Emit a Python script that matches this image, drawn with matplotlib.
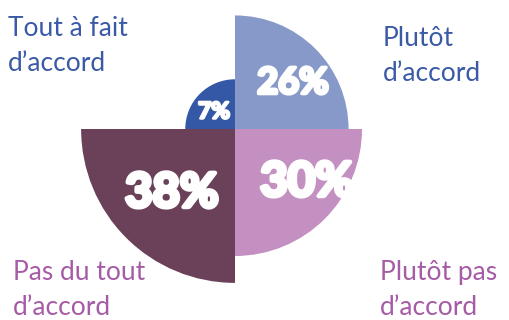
import numpy as np
import matplotlib
matplotlib.use("Agg")
import matplotlib.pyplot as plt
import matplotlib.patheffects as pe

# Survey answers, one quadrant each (counter-clockwise from the right)
categories = ["Plutôt d’accord", "Tout à fait d’accord", "Pas du tout d’accord", "Plutôt pas d’accord"]
shares = [26, 7, 38, 30]
label_lines = [["Plutôt", "d’accord"], ["Tout à fait", "d’accord"],
               ["Pas du tout", "d’accord"], ["Plutôt pas", "d’accord"]]

slice_colors = ["#8799C8", "#3458A5", "#6B4059", "#C490C2"]
text_colors = ["#3A5AA6", "#3A5AA6", "#A65BA6", "#A65BA6"]

# radial offset so that small shares still give a visible wedge
offset = 7.8
rmax = 50 - offset

fig = plt.figure(figsize=(5.1, 3.2), dpi=100)
W, H = 510, 320
cx, cy = 235, 191          # wedge centre in pixels (from bottom-left)
R = 168                    # pixel radius of rmax
ax = fig.add_axes([(cx - R) / W, (cy - R) / H, 2 * R / W, 2 * R / H],
                  projection="polar")
ax.set_ylim(-offset, rmax)
ax.set_axis_off()

theta = np.arange(4) * np.pi / 2
ax.bar(theta, [s + offset for s in shares], width=np.pi / 2, bottom=-offset,
       align="edge", color=slice_colors, edgecolor="none")

# percentage labels inside each wedge
pct_pos = [(293, 83, 26, 2.6), (214, 112, 16.5, 1.8), (172, 193, 34, 3.2), (307, 182, 34, 3.2)]
for s, (px, py, fs, lw) in zip(shares, pct_pos):
    fig.text(px / W, 1 - py / H, f"{s}%", ha="center", va="center",
             color="white", fontsize=fs, fontweight="bold", fontstyle="normal",
             family="Lato",
             path_effects=[pe.withStroke(linewidth=lw, foreground="white")])

# category labels in the corners
label_pos = [(383, 46), (8, 36), (13, 280), (380, 280)]
for lines, (px, py), col in zip(label_lines, label_pos, text_colors):
    for i, line in enumerate(lines):
        fig.text(px / W, 1 - (py + i * 35) / H, line, ha="left", va="baseline",
                 color=col, fontsize=19, family="Lato")

fig.savefig("out.png", dpi=100)
